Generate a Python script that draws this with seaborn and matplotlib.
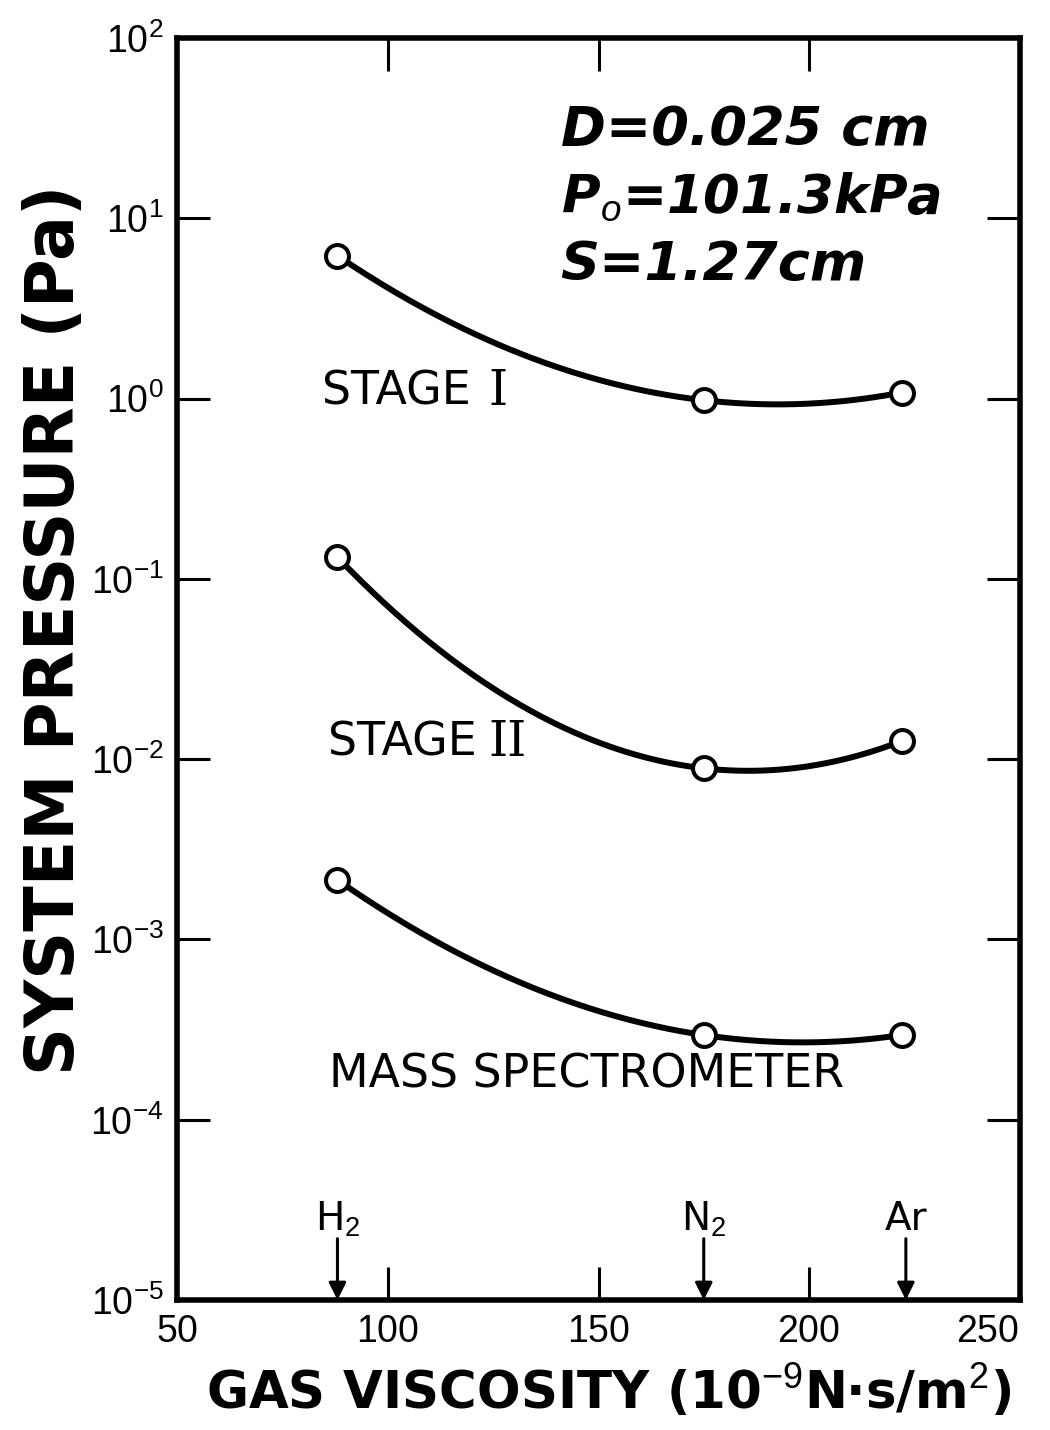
import numpy as np
import pandas as pd
import matplotlib
matplotlib.use("Agg")
import matplotlib.pyplot as plt
import seaborn as sns

# ---- data ----
gases = ["H$_2$", "N$_2$", "Ar"]
viscosity = [88, 175, 222]          # 10^-9 N s / m^2
stage1 = [6.2, 0.98, 1.08]          # Pa
stage2 = [0.132, 0.0089, 0.0126]    # Pa
mass_spec = [0.00214, 0.000295, 0.000295]  # Pa
series_names = ["STAGE I", "STAGE II", "MASS SPECTROMETER"]
arrow_x = [88, 175, 223]
x_ticks = [50, 100, 150, 200, 250]
y_exps = [-5, -4, -3, -2, -1, 0, 1, 2]

sns.set_theme(style="white")
plt.rcParams["font.family"] = ["DejaVu Sans"]
plt.rcParams["mathtext.fontset"] = "custom"
plt.rcParams["mathtext.rm"] = "Liberation Sans"
plt.rcParams["mathtext.it"] = "Liberation Sans:italic"
plt.rcParams["mathtext.bf"] = "Liberation Sans:bold"
for k in ["text.color", "axes.labelcolor", "xtick.color", "ytick.color", "axes.edgecolor"]:
    plt.rcParams[k] = "black"

fig = plt.figure(figsize=(10.5, 14.3), dpi=100)
ax = fig.add_axes([0.169, 0.0909, 0.802, 0.8825])

df = pd.DataFrame({
    "x": viscosity * 3,
    "y": stage1 + stage2 + mass_spec,
    "series": sum([[n] * 3 for n in series_names], []),
})

# smooth curves (quadratic in log space through the three points)
for name in series_names:
    sub = df[df.series == name]
    coef = np.polyfit(sub.x, np.log10(sub.y), 2)
    xs = np.linspace(sub.x.min(), sub.x.max(), 200)
    curve = pd.DataFrame({"x": xs, "y": 10 ** np.polyval(coef, xs)})
    sns.lineplot(data=curve, x="x", y="y", ax=ax, color="black",
                 linewidth=4.3, zorder=2, solid_capstyle="round")

sns.scatterplot(data=df, x="x", y="y", ax=ax, marker="o", s=16.5 ** 2,
                facecolor="white", edgecolor="black", linewidth=2.9,
                zorder=3, legend=False)

ax.set_yscale("log")
ax.set_xlim(50, 250)
ax.set_ylim(1e-5, 1e2)
ax.set_xticks(x_ticks)
ax.set_xticklabels([f"${t}$" for t in x_ticks])
ax.set_yticks([10.0 ** e for e in y_exps])
ax.set_yticklabels([f"$10^{{{e}}}$" for e in y_exps])
ax.yaxis.set_minor_locator(matplotlib.ticker.NullLocator())
ax.xaxis.set_minor_locator(matplotlib.ticker.NullLocator())

ax.tick_params(axis="both", which="major", direction="in", length=24, width=2.2,
               color="black", labelsize=27, top=True, right=True,
               bottom=True, left=True, pad=10)
labs = ax.get_xticklabels()
labs[-1].set_ha("right")
for sp in ax.spines.values():
    sp.set_linewidth(4)
    sp.set_color("black")

ax.set_xlabel("GAS VISCOSITY (10$^{-9}$N·s/m$^{2}$)", fontsize=37,
              fontweight="bold", va="top")
ax.xaxis.set_label_coords(0.512, -0.050)
ax.set_ylabel("SYSTEM PRESSURE (Pa)", fontsize=48, fontweight="bold", va="center")
ax.yaxis.set_label_coords(-0.146, 0.531)

# series labels
ax.text(84.4, 1.09, "STAGE", fontsize=33, ha="left", va="center")
ax.text(126.0, 1.09, "I", fontsize=35, ha="center", va="center", family="DejaVu Serif")
ax.text(85.8, 0.0123, "STAGE", fontsize=33, ha="left", va="center")
ax.text(128.5, 0.0123, "II", fontsize=35, ha="center", va="center", family="DejaVu Serif")
ax.text(86, 1.78e-4, series_names[2], fontsize=33, ha="left", va="center")

# parameter block
ax.text(141, 30.9, "D=0.025 cm", fontsize=39, style="italic", fontweight="bold",
        ha="left", va="center")
ax.text(141, 13.1, "P$_o$=101.3kPa", fontsize=38, style="italic", fontweight="bold",
        ha="left", va="center")
ax.text(141, 5.5, "S=1.27cm", fontsize=39, style="italic", fontweight="bold",
        ha="left", va="center")

# gas arrows
for g, xv in zip(gases, arrow_x):
    ax.annotate("", xy=(xv, 1e-5), xytext=(xv, 1e-5 * 10 ** 0.34),
                arrowprops=dict(arrowstyle="-|>", color="black", lw=2.2,
                                mutation_scale=26, shrinkA=0, shrinkB=0))
    ax.text(xv, 1e-5 * 10 ** 0.45, g, fontsize=28, ha="center", va="center")

fig.savefig("out.png", dpi=100)
